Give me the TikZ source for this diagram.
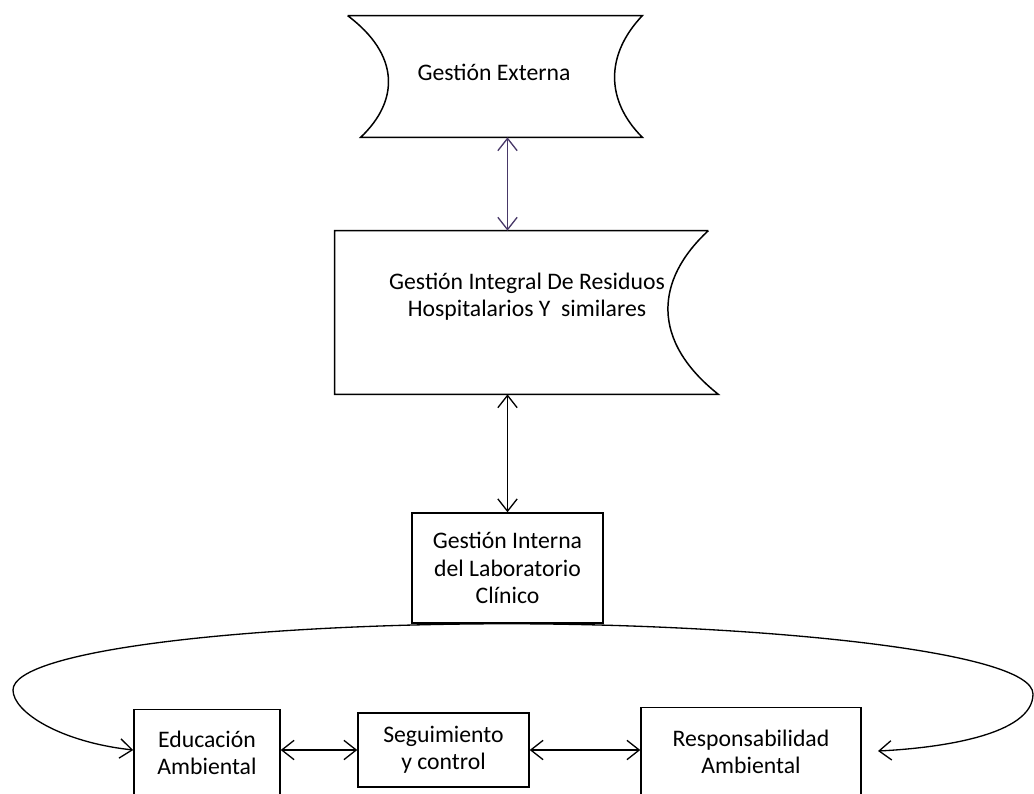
\documentclass[tikz,border=0pt]{standalone}
\usepackage{fontspec}
\setmainfont{Carlito}
\usepackage{tikz}
\usetikzlibrary{arrows.meta, positioning, calc}
\definecolor{linkpurple}{RGB}{72, 56, 104}

\begin{document}
\begin{tikzpicture}[
    x=0.02cm, y=-0.02cm,
    process/.style={draw, line width=0.85pt, align=center, inner sep=2pt, font=\fontsize{13.5}{15.5}\selectfont},
    shapebox/.style={inner sep=0pt, align=center, font=\fontsize{13.5}{15.5}\selectfont},
    outline/.style={draw, line width=0.85pt},
    link/.style={{Straight Barb[length=7pt,width=11pt]}-{Straight Barb[length=7pt,width=11pt]}, line width=0.75pt}
]
    \useasboundingbox (0,0) rectangle (1034,794);

    % Gestion Externa (concave sides)
    \node[shapebox, minimum width=5.88cm, minimum height=2.42cm] (ext) at (495,76.5) {};
    \node[shapebox] (exttext) at (494,72) {Gesti\'on Externa};
    \draw[outline] (ext.north west) -- (ext.north east)
        .. controls +(-37,39) and +(-37,-37) .. (ext.south east)
        -- ($(ext.south west)+(13,0)$)
        .. controls +(39,-37) and +(52,39) .. (ext.north west);

    % Gestion Integral (wavy right side)
    \node[shapebox, minimum width=7.46cm, minimum height=3.26cm] (gir) at (521.5,312.5) {};
    \node[shapebox] (girtext) at (527,297) {Gesti\'on Integral De Residuos\\Hospitalarios Y\ \ similares};
    \draw[outline] (gir.north east) -- (gir.north west) -- (gir.south west)
        -- ($(gir.south east)+(10,0)$)
        .. controls +(-68,-54) and +(-53,49) .. (gir.north east);

    % Gestion Interna
    \node[process, minimum width=3.82cm, minimum height=2.2cm] (gint) at (507.5,568) {Gesti\'on Interna\\del Laboratorio\\Cl\'inico};

    % Bottom row
    \node[process, minimum width=2.92cm, minimum height=1.74cm] (edu) at (207,753) {Educaci\'on\\Ambiental};
    \node[process, minimum width=3.42cm, minimum height=1.48cm] (seg) at (443.5,750) {Seguimiento\\y control};
    \node[process, minimum width=4.4cm, minimum height=1.78cm] (resp) at (751,752) {Responsabilidad\\Ambiental};
    \coordinate (loopend) at (878,751);

    % Relationships
    \draw[link, linkpurple] (ext.south -| gint.north) -- (gir.north -| gint.north);
    \draw[link] (gir.south -| gint.north) -- (gint.north);
    \draw[link] (seg.west -| edu.east) -- (seg.west);
    \draw[link] (seg.east) -- (seg.east -| resp.west);
    \draw[link] (loopend)
        .. controls (940,748) and (1033,735) .. (1033,694)
        .. controls (1033,650) and (750,624) .. (gint.south)
        .. controls (250,624) and (13,650) .. (13,690)
        .. controls (13,712) and (60,742) .. (seg.west -| edu.west);

\end{tikzpicture}
\end{document}
